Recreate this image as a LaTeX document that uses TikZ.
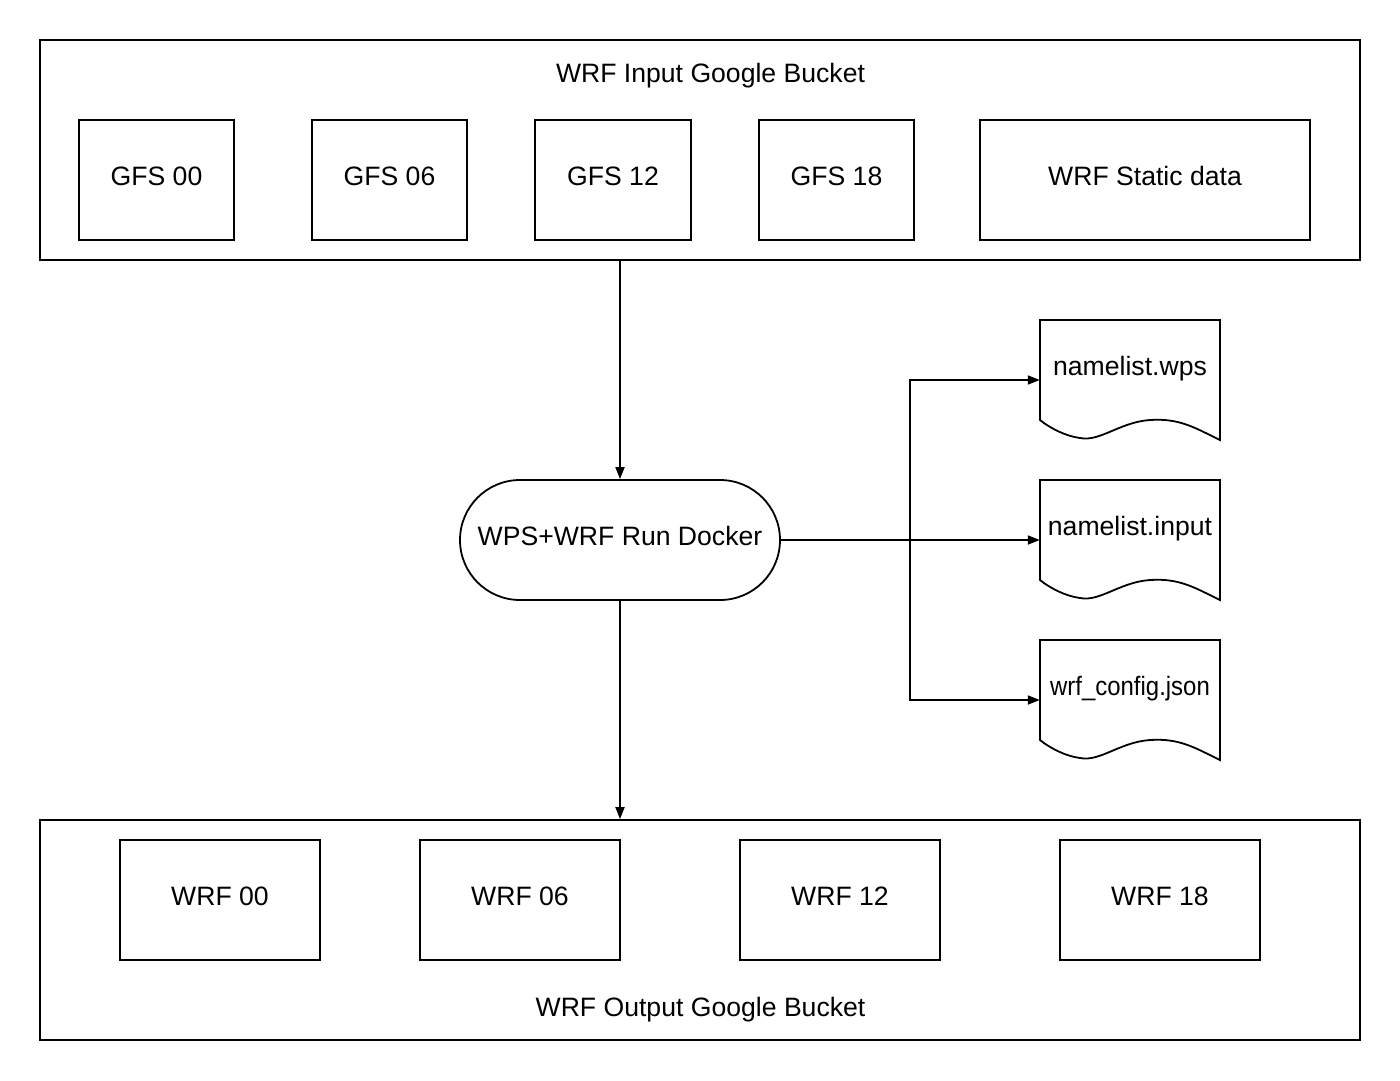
\documentclass[tikz,border=0pt]{standalone}
\usepackage{fontspec}
\setmainfont{Liberation Sans}
\usetikzlibrary{arrows.meta}
\begin{document}
\begin{tikzpicture}[x=1pt,y=-1pt,
  every node/.style={font=\fontsize{26.6}{31}\selectfont},
  ln/.style={line width=1.8pt, draw=black},
  bx/.style={ln, rectangle, inner sep=0pt, text height=19pt, text depth=9pt},
  bucket/.style={ln, rectangle, inner sep=0pt, minimum width=1320pt, minimum height=220pt},
  term/.style={ln, rectangle, rounded corners=60pt, minimum width=320pt, minimum height=120pt, inner sep=0pt, text height=19pt, text depth=9pt},
  doc/.style={rectangle, minimum width=180pt, minimum height=120pt, inner sep=0pt},
  arr/.style={line width=1.8pt, -{Triangle[length=12pt,width=9pt]}},
  lbl/.style={anchor=base, inner sep=0pt}
]
\useasboundingbox[fill=white] (0,0) rectangle (1400,1080);

% input bucket
\node[bucket] (top) at (700,150) {};
\node[lbl] (toptitle) at (710.5,82) {WRF Input Google Bucket};
\node[bx, minimum width=155pt, minimum height=120pt] (g00) at (156.5,180) {GFS 00};
\node[bx, minimum width=155pt, minimum height=120pt] (g06) at (389.5,180) {GFS 06};
\node[bx, minimum width=156pt, minimum height=120pt] (g12) at (613,180) {GFS 12};
\node[bx, minimum width=155pt, minimum height=120pt] (g18) at (836.5,180) {GFS 18};
\node[bx, minimum width=330pt, minimum height=120pt] (stat) at (1145,180) {WRF Static data};

% docker
\node[term] (dock) at (620,540) {WPS+WRF Run Docker};

% output bucket
\node[bucket] (bot) at (700,930) {};
\node[lbl] (bottitle) at (700.5,1016) {WRF Output Google Bucket};
\node[bx, minimum width=200pt, minimum height=120pt] (w00) at (220,900) {WRF 00};
\node[bx, minimum width=200pt, minimum height=120pt] (w06) at (520,900) {WRF 06};
\node[bx, minimum width=200pt, minimum height=120pt] (w12) at (840,900) {WRF 12};
\node[bx, minimum width=200pt, minimum height=120pt] (w18) at (1160,900) {WRF 18};

% documents
\foreach \n/\y/\t in {d1/320/namelist.wps, d2/480/namelist.input, d3/640/\scalebox{0.9}[1]{wrf\_config.json}}{
  \node[doc] (\n) at (1130,\y+60) {};
  \draw[line width=1.8pt, line join=miter]
    (1040,\y+100) -- (1040,\y) -- (1220,\y) -- (1220,\y+120)
    .. controls (1195,\y+108) and (1180,\y+98) .. (1150,\y+100)
    .. controls (1120,\y+102) and (1100,\y+122) .. (1080,\y+118)
    .. controls (1065,\y+116) and (1050,\y+108) .. (1040,\y+100) -- cycle;
  \node[lbl] at (1130,\y+55) {\t};
}

% connectors
\coordinate (j) at (910,540);
\draw[arr] (dock.north |- top.south) -- (dock.north);
\draw[arr] (dock.south) -- (dock.south |- bot.north);
\draw[arr] (dock.east) -- (d2.west);
\draw[arr] (j) |- (d1.west);
\draw[arr] (j) |- (d3.west);
\end{tikzpicture}
\end{document}
